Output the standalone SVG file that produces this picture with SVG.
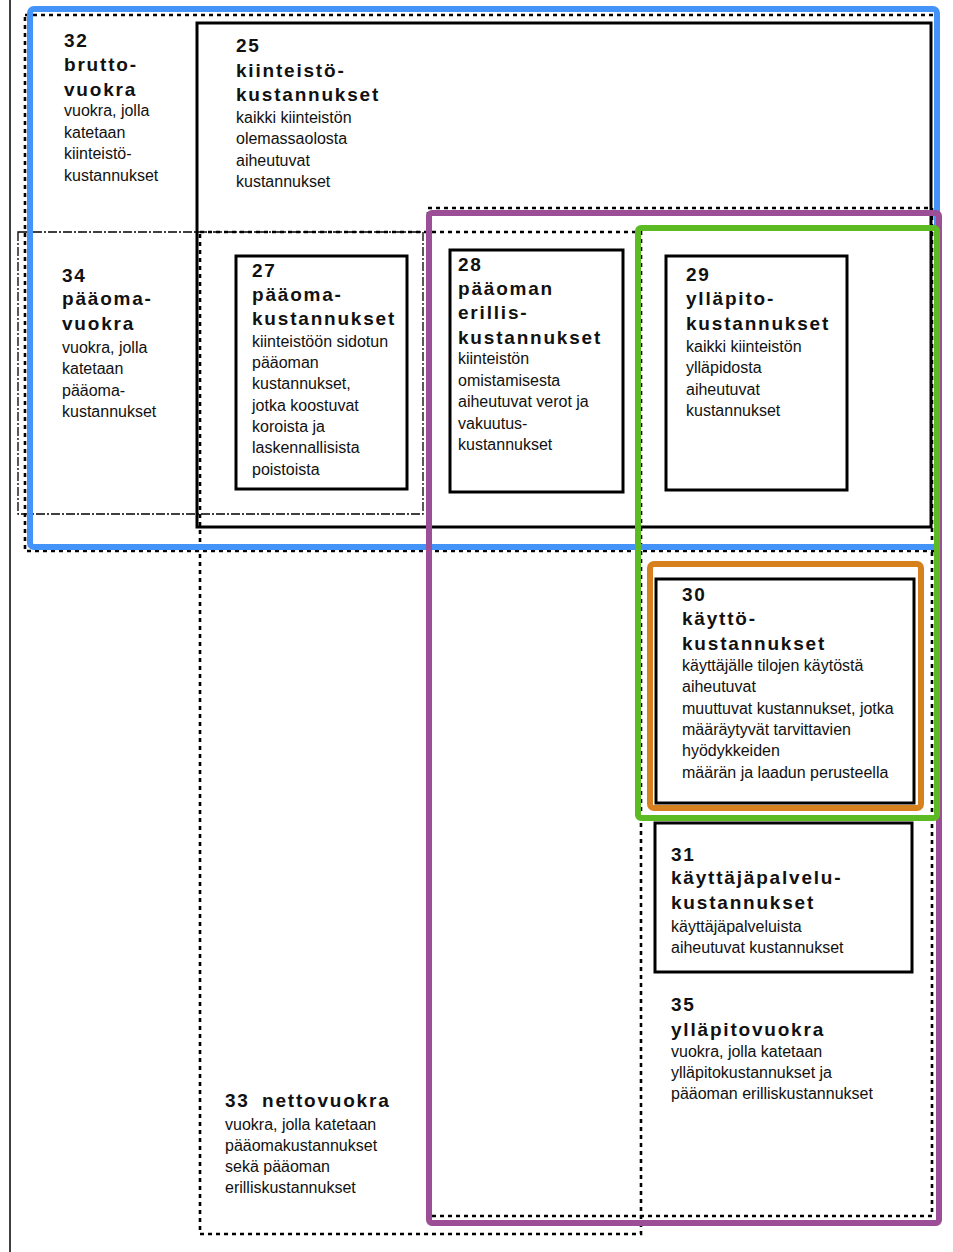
<svg xmlns="http://www.w3.org/2000/svg" width="953" height="1252" viewBox="0 0 953 1252">
<style>
.h{font-family:"Liberation Sans",Arial,sans-serif;font-weight:bold;font-size:19px;letter-spacing:1.8px;fill:#111}
.t{font-family:"Liberation Sans",Arial,sans-serif;font-size:16px;fill:#111}
.dot{fill:none;stroke:#000;stroke-width:2.6;stroke-dasharray:4 4}
.dd{fill:none;stroke:#000;stroke-width:1.3;stroke-dasharray:9 2 2 2}
.box{fill:none;stroke:#000;stroke-width:3}
.hl{fill:none;stroke-width:6;stroke-linejoin:round}
</style>
<rect width="953" height="1252" fill="#fff"/>
<g id="frame">
<line x1="10" y1="0" x2="10" y2="1252" stroke="#000" stroke-width="1.5"/>
</g>
<g id="connectors"></g>
<g id="n32"><rect class="dot" x="25" y="15" width="911" height="536"/>
<text class="h" x="64" y="47">32</text><text class="h" x="64" y="71">brutto-</text><text class="h" x="64" y="96">vuokra</text>
<text class="t" x="64" y="116">vuokra, jolla</text><text class="t" x="64" y="138">katetaan</text><text class="t" x="64" y="159">kiinteistö-</text><text class="t" x="64" y="181">kustannukset</text></g>
<g id="n34"><rect class="dd" x="18" y="232" width="405" height="282"/>
<text class="h" x="62" y="282">34</text><text class="h" x="62" y="305">pääoma-</text><text class="h" x="62" y="330">vuokra</text>
<text class="t" x="62" y="353">vuokra, jolla</text><text class="t" x="62" y="374">katetaan</text><text class="t" x="62" y="396">pääoma-</text><text class="t" x="62" y="417">kustannukset</text></g>
<g id="n25"><rect class="box" x="197" y="23" width="734" height="504"/>
<text class="h" x="236" y="52">25</text><text class="h" x="236" y="77">kiinteistö-</text><text class="h" x="236" y="101">kustannukset</text>
<text class="t" x="236" y="123">kaikki kiinteistön</text><text class="t" x="236" y="144">olemassaolosta</text><text class="t" x="236" y="166">aiheutuvat</text><text class="t" x="236" y="187">kustannukset</text></g>
<g id="n33"><rect class="dot" x="200" y="232" width="441" height="1002"/>
<text class="h" x="225" y="1107">33</text><text class="h" x="262" y="1107">nettovuokra</text>
<text class="t" x="225" y="1130">vuokra, jolla katetaan</text><text class="t" x="225" y="1151">pääomakustannukset</text><text class="t" x="225" y="1172">sekä pääoman</text><text class="t" x="225" y="1193">erilliskustannukset</text></g>
<g id="n35"><rect class="dot" x="428" y="208" width="504" height="1008"/>
<text class="h" x="671" y="1011">35</text><text class="h" x="671" y="1036">ylläpitovuokra</text>
<text class="t" x="671" y="1057">vuokra, jolla katetaan</text><text class="t" x="671" y="1078">ylläpitokustannukset ja</text><text class="t" x="671" y="1099">pääoman erilliskustannukset</text></g>
<g id="n27"><rect class="box" x="236" y="256" width="171" height="233"/>
<text class="h" x="252" y="277">27</text><text class="h" x="252" y="301">pääoma-</text><text class="h" x="252" y="325">kustannukset</text>
<text class="t" x="252" y="347">kiinteistöön sidotun</text><text class="t" x="252" y="368">pääoman</text><text class="t" x="252" y="389">kustannukset,</text><text class="t" x="252" y="411">jotka koostuvat</text><text class="t" x="252" y="432">koroista ja</text><text class="t" x="252" y="453">laskennallisista</text><text class="t" x="252" y="475">poistoista</text></g>
<g id="n28"><rect class="box" x="450" y="250" width="173" height="242"/>
<text class="h" x="458" y="271">28</text><text class="h" x="458" y="295">pääoman</text><text class="h" x="458" y="319">erillis-</text><text class="h" x="458" y="344">kustannukset</text>
<text class="t" x="458" y="364">kiinteistön</text><text class="t" x="458" y="386">omistamisesta</text><text class="t" x="458" y="407">aiheutuvat verot ja</text><text class="t" x="458" y="429">vakuutus-</text><text class="t" x="458" y="450">kustannukset</text></g>
<g id="n29"><rect class="box" x="666" y="256" width="181" height="234"/>
<text class="h" x="686" y="281">29</text><text class="h" x="686" y="305">ylläpito-</text><text class="h" x="686" y="330">kustannukset</text>
<text class="t" x="686" y="352">kaikki kiinteistön</text><text class="t" x="686" y="373">ylläpidosta</text><text class="t" x="686" y="395">aiheutuvat</text><text class="t" x="686" y="416">kustannukset</text></g>
<g id="n30"><rect class="box" x="656" y="579" width="258" height="224"/>
<text class="h" x="682" y="601">30</text><text class="h" x="682" y="625">käyttö-</text><text class="h" x="682" y="650">kustannukset</text>
<text class="t" x="682" y="671">käyttäjälle tilojen käytöstä</text><text class="t" x="682" y="692">aiheutuvat</text><text class="t" x="682" y="714">muuttuvat kustannukset, jotka</text><text class="t" x="682" y="735">määräytyvät tarvittavien</text><text class="t" x="682" y="756">hyödykkeiden</text><text class="t" x="682" y="778">määrän ja laadun perusteella</text></g>
<g id="n31"><rect class="box" x="655" y="823" width="257" height="149"/>
<text class="h" x="671" y="861">31</text><text class="h" x="671" y="884">käyttäjäpalvelu-</text><text class="h" x="671" y="909">kustannukset</text>
<text class="t" x="671" y="932">käyttäjäpalveluista</text><text class="t" x="671" y="953">aiheutuvat kustannukset</text></g>
<g id="highlights">
<rect class="hl" x="30" y="9" width="907" height="538" rx="4" stroke="#4493f8"/>
<rect class="hl" x="429" y="213" width="510" height="1010" rx="3" stroke="#9c4f96"/>
<rect class="hl" x="638" y="228" width="299" height="590" rx="3" stroke="#5cbb22"/>
<rect class="hl" x="650" y="564" width="271" height="244" rx="4" stroke="#d6801e"/>
</g>
</svg>
